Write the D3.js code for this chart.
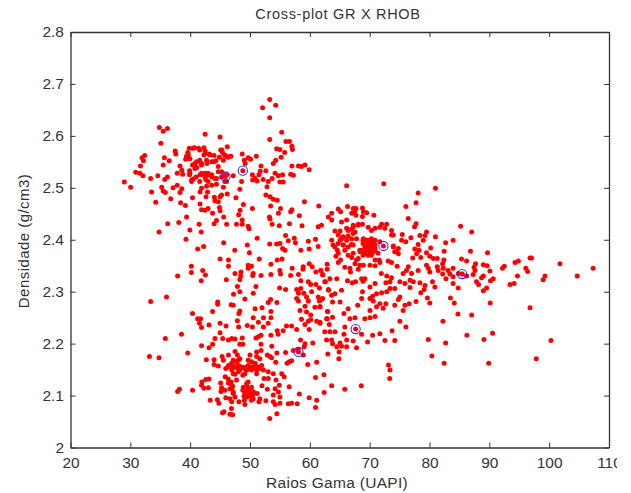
<!DOCTYPE html>
<meta charset="utf-8">
<script src="https://d3js.org/d3.v7.min.js"></script>
<style>
  html, body { margin: 0; background: #fff; }
  svg { display: block; }
  text { font-family: "Liberation Sans", sans-serif; fill: #333; }
</style>
<div id="my_dataviz"></div>
<script>
// tick labels
var grTicks = [20, 30, 40, 50, 60, 70, 80, 90, 100, 110];
var rhobTicks = [2, 2.1, 2.2, 2.3, 2.4, 2.5, 2.6, 2.7, 2.8];

// [GR, RHOB]
var upperLeft = [[53.3,2.67],[54.3,2.659],[52.1,2.654],[53.3,2.635],[34.85,2.616],[35.5,2.609],[36.2,2.614],[42.5,2.603],[45,2.598],[55.3,2.607],[53.3,2.593],[35.1,2.586],[56,2.589],[56.6,2.589],[46.2,2.579],[57,2.58],[57.1,2.574],[54.45,2.575],[55,2.574],[55.8,2.568],[55.2,2.559],[54.3,2.553],[53.9,2.547],
[39.86,2.576],[40.7,2.577],[41.4,2.576],[42.3,2.577],[39.6,2.568],[39.4,2.561],[39.25,2.555],[39.97,2.556],[42.5,2.571],[43.2,2.565],[44,2.562],[45.1,2.573],[45.4,2.568],[45.8,2.562],[46.3,2.559],[46.8,2.561],[42.3,2.563],[41.6,2.553],[40.8,2.547],[40.4,2.544],[41.1,2.539],[41.9,2.544],[42.8,2.547],[43.6,2.55],[44.3,2.552],[44.9,2.559],[45.55,2.553],[48.7,2.565],[49.05,2.553],[49.7,2.558],[50.1,2.555],[51.05,2.561],[49.2,2.547],[37.5,2.571],[37.6,2.565],[32.4,2.562],[31.95,2.558],[32.2,2.552],[31.7,2.542],[35.7,2.558],[36.5,2.552],[35.5,2.544],[30.9,2.53],[31.6,2.528],[32.1,2.523],[33.4,2.518],[34.6,2.523],[36.2,2.521],[35.75,2.516],[29,2.511],[30.05,2.501],
[38.3,2.542],[38.6,2.534],[37.85,2.528],[38.75,2.526],[39.9,2.533],[39.9,2.525],[40.55,2.517],[41,2.521],[40.25,2.512],[41.65,2.525],[42.3,2.525],[43,2.525],[43.6,2.521],[42.6,2.516],[44.4,2.518],[45.25,2.521],[46.1,2.525],[47.2,2.523],[45.8,2.512],[44.4,2.507],[43.6,2.505],[42.75,2.503],[41.9,2.499],[41.65,2.492],[42.9,2.492],[45.25,2.486],[42.65,2.483],[40.4,2.481],[46.2,2.488],[45.55,2.501],[45,2.483],[44.05,2.482],[44.15,2.475],[44.7,2.473],[41.65,2.469],[41.9,2.458],[42.5,2.457],[43,2.46],[44.9,2.462],[45,2.456],[43.75,2.451],[45.6,2.444],[44.4,2.437],[44,2.431],[46.1,2.43],[47.65,2.481],[48.3,2.497],[48.6,2.512],[50.4,2.525],[50.85,2.518],[51.5,2.525],[51.7,2.532],[51.85,2.542],[52.65,2.533],[50.45,2.515],[51.2,2.513],[52.2,2.516],[53.05,2.512],[53.7,2.518],[52.85,2.502],[54.2,2.528],[54.75,2.523],[55.45,2.525],[55,2.511],[55.55,2.511],[56.8,2.526],[57.25,2.524],[57,2.542],[58.1,2.542],[59.2,2.544],[59.9,2.535],[58.6,2.541],[52.65,2.486],[53.35,2.483],[53.9,2.478],[54.55,2.476],[53.45,2.465],[59.1,2.473],[61.5,2.465],[55.1,2.46],[54.75,2.451],[56.8,2.454],[57,2.458],[58.25,2.446],[53.25,2.444],[53.35,2.44],[53.7,2.43],[54.9,2.427],[56.6,2.431],[58.7,2.427],[61.4,2.425],
[55.95,2.408],[56.4,2.398],[57.4,2.403],[57.6,2.394],[59.75,2.397],[60.95,2.401],[61.4,2.387],[59.9,2.382],[58.5,2.38],[55,2.393],[54.45,2.392],[55.45,2.383],[55.85,2.38],[53.3,2.392],[51.2,2.403],[49.55,2.39],[49.9,2.375],[45.6,2.394],[47.45,2.38],[42.25,2.387],[41.25,2.382],[39.3,2.401],[34.8,2.415],[36.25,2.431],[38.1,2.433],[39.4,2.444],[39.95,2.419],[41.5,2.43],[41.85,2.415],[34.25,2.472],[33.55,2.492],[35.25,2.501],[35.5,2.494],[35.85,2.491],[36.75,2.479],[38.4,2.471],[39.2,2.466],[37.15,2.5],[37.85,2.505],[38.6,2.498],[38.3,2.491],[48.7,2.438],[48.7,2.43],[47.75,2.43],[48.1,2.448],[48.35,2.457],[48.9,2.468],[50.4,2.46],[49.7,2.426],[49.85,2.421],[45,2.363],[51.55,2.363],[54.55,2.361],[55.35,2.363],[46.4,2.361],
[39.7,2.563],[40.5,2.576],[41.6,2.573],[42.5,2.566],[43.3,2.563],[45.3,2.573],[45.8,2.563],[46.4,2.56],[41.1,2.55],[41.9,2.547],[42.75,2.553],[43.9,2.55],[44.7,2.541],[40.8,2.537],[40.25,2.515],[41.9,2.528],[42.5,2.528],[43,2.528],[43.6,2.525],[42.5,2.521],[44.15,2.518],[44.7,2.531],[45.25,2.531],[45.8,2.525],[46.1,2.512],[41.6,2.512],[43,2.512],[39.95,2.528]];

var lowerLeft = [[40.2,2.349],[40.2,2.337],[42.1,2.341],[42.55,2.332],[37.9,2.33],[41.85,2.321],[46.05,2.323],[46.4,2.349],[47.5,2.335],[48.5,2.338],[48.45,2.33],[48.3,2.323],[49.7,2.351],[50.25,2.349],[49.7,2.345],[50.55,2.335],[50.45,2.331],[51.85,2.331],[53.5,2.353],[53.5,2.333],[55,2.341],[55.1,2.334],[56.8,2.331],[57.05,2.345],[58.1,2.333],[58.5,2.321],[58.9,2.348],[58.85,2.343],[59.9,2.354],[60.4,2.348],[61,2.338],[61.8,2.341],[62.15,2.332],[62.6,2.319],[59.75,2.319],[60.15,2.314],[61,2.314],[61.6,2.307],[63.15,2.303],[36.05,2.29],[33.4,2.281],[47.9,2.31],[51,2.31],[48.3,2.3],[47.25,2.295],[50.55,2.297],[49.15,2.286],[54.95,2.307],[55.95,2.304],[57.8,2.304],[58.5,2.306],[58.1,2.297],[59,2.297],[57.8,2.287],[58.1,2.282],[59.45,2.29],[59.75,2.282],[60.3,2.3],[61.4,2.29],[61.95,2.285],[61.6,2.282],[61.7,2.271],[59.2,2.272],[60.85,2.27],[58.35,2.264],[59.45,2.261],[60.15,2.255],[58.6,2.247],[59.75,2.243],[60.15,2.246],[59.2,2.237],[61.15,2.243],[61.7,2.241],[62.8,2.248],[62.95,2.262],[59.9,2.227],[57.8,2.227],[56.95,2.234],[56.1,2.234],[55.55,2.225],[54.55,2.225],[54.7,2.218],[53.5,2.216],[53.65,2.195],[51.85,2.216],[51.4,2.213],[51,2.211],[54.5,2.182],[55.95,2.183],[57.25,2.187],[58.05,2.189],[58.45,2.207],[59.2,2.2],[60.5,2.201],[59.05,2.194],[58.9,2.178],[59.65,2.16],[61.15,2.164],[56.95,2.167],[56.55,2.165],[56.2,2.162],[54.3,2.164],[53.35,2.175],[52.9,2.178],[53.6,2.173],[62.35,2.14],[60.95,2.135],[56.55,2.117],[62.4,2.106],[59.9,2.096],[61.15,2.091],[60.95,2.077],[58.25,2.103],[57.9,2.084],[56.95,2.085],[56.4,2.084],[54.5,2.065],[53.3,2.056],[45.4,2.067],[45.65,2.069],[46.65,2.064],[47.1,2.063],[46.9,2.075],[43.35,2.091],[44.55,2.092],[44.8,2.085],[45.95,2.096],[46.65,2.094],[46.95,2.088],[48.15,2.088],[49.15,2.083],[49.05,2.091],[50.25,2.091],[51.5,2.088],[51.65,2.094],[52.65,2.09],[53.9,2.088],[54.2,2.083],[55,2.085],[55,2.097],[53.9,2.101],[54.75,2.107],[54.2,2.113],[54.9,2.12],[54.35,2.13],[52.9,2.112],[52,2.119],[51.2,2.104],[50.55,2.107],[49.7,2.126],[49.45,2.118],[50,2.113],[48.8,2.11],[49.15,2.107],[49.7,2.105],[49,2.099],[50,2.099],[50.45,2.101],[50.55,2.094],[47.2,2.107],[46.65,2.113],[47.1,2.118],[46.4,2.124],[45.85,2.136],[46.85,2.126],[45.1,2.124],[45.25,2.115],[45.15,2.108],[47.75,2.13],[47.5,2.141],[48.8,2.139],[51.1,2.142],[52.35,2.133],[53.05,2.133],[53.9,2.142],[55.3,2.142],[55.7,2.136],[41.95,2.126],[42.6,2.131],[43.15,2.132],[41.9,2.12],[42.3,2.114],[43.05,2.115],[40.4,2.11],[37.9,2.108],[38.2,2.112],[33.2,2.175],[34.8,2.173],[39.6,2.182],[35.85,2.21],[38.55,2.218],[41.9,2.196],[42.7,2.169],[44,2.169],[44,2.16],[44.7,2.157],[45.35,2.175],[45.55,2.168],[43.15,2.192],[43.75,2.199],[44.15,2.21],[45,2.221],[45.45,2.21],[46.4,2.207],[46.95,2.21],[47.5,2.209],[48.7,2.211],[48.3,2.199],[48.8,2.199],[47.5,2.185],[46.4,2.178],[47.9,2.178],[48.3,2.171],[47.75,2.165],[46.95,2.162],[45.95,2.152],[46.4,2.155],[47.2,2.157],[47.75,2.154],[48.3,2.155],[48.9,2.154],[49.45,2.155],[50,2.178],[49.7,2.168],[50.25,2.165],[51.1,2.184],[51.85,2.187],[51.1,2.175],[50.85,2.162],[51.65,2.171],[51.95,2.158],[51.5,2.152],[50.45,2.152],[49.7,2.152],[49.15,2.142],[52.25,2.149],[53.05,2.146],[48.05,2.146],[47.2,2.142],[51.85,2.199],[40.4,2.258],[41.25,2.248],[41.75,2.248],[41.55,2.239],[41.9,2.231],[43.15,2.236],[43.75,2.262],[44.6,2.28],[44.6,2.276],[45,2.239],[46,2.234],[46.85,2.275],[47.2,2.274],[48.3,2.263],[48.15,2.258],[47.9,2.244],[48.1,2.232],[49.55,2.235],[50.4,2.232],[50.55,2.25],[50.85,2.267],[51.4,2.241],[52,2.269],[52.25,2.25],[52.25,2.232],[53.05,2.239],[53.5,2.262],[53.5,2.25],[53.05,2.279],[53.45,2.285],[54.5,2.279],
[46.4,2.158],[46.95,2.161],[47.5,2.155],[48.05,2.158],[48.6,2.155],[49.15,2.152],[49.7,2.158],[50.3,2.155],[50.85,2.158],[51.4,2.155],[47.2,2.168],[48.05,2.168],[46.95,2.149],[48.3,2.149],[49.45,2.149],[50.25,2.149],[49.45,2.123],[48.9,2.116],[49.7,2.113],[50.25,2.116],[49.15,2.107],[50,2.104],[50.55,2.107],[49.45,2.097],[46.65,2.123],[46.95,2.113],[46.35,2.132],[47.2,2.104],[47.5,2.097],[45.8,2.11],[51.1,2.149]];

var rightSide = [[66.15,2.504],[72.35,2.508],[81,2.499],[78.1,2.49],[76.05,2.464],[77.75,2.471],[76.45,2.441],[77.75,2.431],[77.5,2.425],[85.2,2.426],[87.05,2.415],[81,2.406],[83.95,2.399],[82.7,2.394],[79.5,2.415],[78.4,2.408],[79.25,2.408],[78.95,2.399],[78.1,2.391],[76.9,2.404],[75.45,2.41],[75.35,2.399],[76.05,2.396],[80.2,2.384],[82.45,2.378],[86.85,2.378],[89.7,2.375],[77.55,2.382],[78.25,2.38],[77.2,2.365],[77.85,2.373],[78.55,2.366],[79.5,2.375],[80.05,2.368],[80.65,2.364],[81.3,2.364],[82.4,2.361],[82.2,2.354],[85.35,2.363],[86.2,2.359],[87.7,2.354],[89,2.352],[89.65,2.35],[87.45,2.347],[90.1,2.34],[92.2,2.345],[92.5,2.349],[94.3,2.356],[94.85,2.359],[96.8,2.365],[97.05,2.365],[101.8,2.354],[107.35,2.345],[104.7,2.33],[96.1,2.345],[96.4,2.339],[94.7,2.33],[99.3,2.33],[99,2.323],[93.45,2.314],[94.15,2.316],[90.65,2.325],[90.2,2.321],[89,2.33],[88.7,2.327],[87.85,2.319],[88.2,2.314],[89.55,2.307],[89,2.302],[87.3,2.333],[87.6,2.341],[86.2,2.33],[84.8,2.335],[83.95,2.345],[83.1,2.341],[82.3,2.345],[81.3,2.348],[81.45,2.341],[82.2,2.334],[82.75,2.325],[83.4,2.334],[83.95,2.329],[83.95,2.316],[84.8,2.307],[85.45,2.334],[83.5,2.288],[84.15,2.278],[84.75,2.257],[87.05,2.255],[90.15,2.278],[96.8,2.269],[82.25,2.243],[86.25,2.216],[90.55,2.22],[89.1,2.208],[100.3,2.206],[79.8,2.208],[82.7,2.201],[80.4,2.176],[82.45,2.162],[89.9,2.162],[97.85,2.171],[73.15,2.159],[73.4,2.149],[73.35,2.133],[63.65,2.119],[68.6,2.119],[65.85,2.112],
[66.3,2.464],[64.75,2.459],[65.15,2.454],[63.65,2.451],[63.1,2.444],[63.65,2.438],[65.3,2.434],[66.15,2.438],[67.25,2.46],[67.7,2.46],[68.8,2.461],[67.55,2.454],[67,2.451],[68.95,2.454],[69.5,2.452],[68.8,2.445],[70.7,2.447],[67.7,2.447],[61.95,2.428],[67.25,2.428],[68.1,2.43],[68.8,2.43],[69.75,2.424],[70.3,2.418],[70.9,2.422],[71.7,2.424],[72,2.43],[72.85,2.43],[72.55,2.422],[73.65,2.418],[73.95,2.409],[64.2,2.417],[65.05,2.417],[66.15,2.422],[66.95,2.42],[67.55,2.415],[64.75,2.409],[65.6,2.406],[66.4,2.407],[63.65,2.399],[63.9,2.39],[65.05,2.399],[65.6,2.39],[66.95,2.391],[67.8,2.402],[68.95,2.402],[69.5,2.399],[70.3,2.402],[70.9,2.399],[68.95,2.393],[69.75,2.39],[70.9,2.39],[71.7,2.396],[68.35,2.38],[69.2,2.38],[70.05,2.38],[70.9,2.38],[70.3,2.373],[68.9,2.37],[73.95,2.388],[74.8,2.383],[74.2,2.377],[74.8,2.373],[64.6,2.38],[65.85,2.38],[64.35,2.368],[65.15,2.361],[64.75,2.356],[66.4,2.37],[67,2.366],[67.8,2.361],[68.35,2.351],[67.55,2.354],[68.95,2.351],[70.05,2.351],[70.9,2.35],[71.6,2.361],[71.7,2.356],[73.1,2.359],[73.65,2.356],[74.6,2.349],[65.85,2.347],[66.7,2.345],[66.8,2.338],[68.1,2.343],[62.9,2.353],[62.9,2.343],[61.85,2.341],[62.15,2.333],[63.35,2.325],[64.5,2.325],[62.5,2.319],[66.3,2.321],[67.1,2.317],[67.65,2.319],[68.65,2.325],[69.2,2.325],[68.9,2.32],[70.9,2.316],[70.05,2.309],[68.8,2.3],[71.95,2.335],[72.85,2.33],[73.65,2.327],[72.7,2.317],[73.4,2.319],[75.05,2.319],[75.9,2.316],[76.75,2.322],[77.3,2.319],[73.4,2.306],[74.2,2.306],[72.85,2.3],[72,2.298],[71.15,2.296],[75.05,2.29],[74.8,2.285],[76.75,2.308],[78.4,2.317],[79.25,2.312],[79.1,2.304],[78.55,2.298],[80.5,2.319],[80.9,2.309],[79.65,2.288],[80.05,2.278],[77.75,2.281],[76.6,2.277],[75.9,2.274],[75.6,2.264],[74.2,2.274],[72.7,2.277],[72.25,2.268],[71.7,2.277],[71.15,2.271],[70.05,2.287],[70.5,2.291],[70.6,2.282],[70.05,2.264],[70.9,2.252],[70.05,2.25],[69.2,2.248],[68.65,2.287],[68,2.274],[66.4,2.267],[65.7,2.258],[66.7,2.248],[67.55,2.25],[65.3,2.303],[64.2,2.296],[63.65,2.293],[63.1,2.304],[62.15,2.287],[63.8,2.28],[65.05,2.28],[61.7,2.271],[63,2.262],[63.8,2.251],[62.9,2.248],[61.7,2.239],[63.25,2.237],[65.85,2.232],[62.5,2.223],[63.35,2.223],[64.2,2.223],[65.7,2.218],[68.65,2.218],[70.5,2.216],[71.7,2.219],[73.75,2.225],[75.05,2.243],[76.05,2.232],[62.8,2.207],[63.65,2.207],[63.8,2.2],[65.05,2.201],[66.15,2.207],[67.25,2.205],[69.65,2.203],[72.55,2.206],[74.2,2.206],[64.5,2.194],[65.3,2.195],[66.15,2.194],[67.8,2.192],[64.9,2.184],[63,2.18],[64.85,2.171],[76.15,2.341],[76.45,2.348],[75.6,2.335],[79.5,2.351],[79.8,2.345],[80.05,2.338],[78.1,2.341],[77,2.335],
[68.9,2.399],[69.5,2.399],[70,2.399],[70.6,2.396],[68.9,2.393],[69.5,2.393],[70,2.393],[70.6,2.39],[69.2,2.386],[69.75,2.386],[70.3,2.386],[70.9,2.383],[68.9,2.38],[69.5,2.38],[70,2.377],[70.6,2.377],[69.2,2.374],[69.75,2.37],[70.3,2.37],[68.4,2.377],[71.4,2.374],[70.9,2.361],[68.1,2.364],[67.25,2.425],[68.1,2.428],[66.4,2.418],[67.25,2.412],[65.3,2.402],[66.15,2.399],[67,2.402],[64.75,2.393],[65.6,2.39],[66.4,2.386],[67.25,2.39],[64.2,2.386],[64.75,2.374],[67.25,2.374],[73.65,2.409],[73.95,2.386],[74.5,2.377]];

var circled = [[45.9,2.522],[48.8,2.533],[58.1,2.184],[72.3,2.388],[85.45,2.334],[67.65,2.228]];

// cut at 617 like the source image, the 110 label gets clipped
var svg = d3.select("#my_dataviz")
  .append("svg")
    .attr("width", 617)
    .attr("height", 493);

var x = d3.scaleLinear().domain([20, 110]).range([70.5, 609]);
var y = d3.scaleLinear().domain([2, 2.8]).range([447.5, 32]);

var tickColor = "#333";

function styleAxis(g) {
  g.selectAll("path").attr("stroke", tickColor).attr("stroke-width", 1.3);
  g.selectAll("line").attr("stroke", tickColor).attr("stroke-width", 1);
  g.selectAll("text").attr("font-size", 15.5).style("fill", "#333");
}

svg.append("g")
  .attr("transform", "translate(0,447.5)")
  .call(d3.axisBottom(x).tickValues(grTicks).tickFormat(d3.format("d")).tickSize(-5).tickSizeOuter(0).tickPadding(9))
  .call(styleAxis);

svg.append("g")
  .attr("transform", "translate(70.5,0)")
  .call(d3.axisLeft(y).tickValues(rhobTicks).tickFormat(d => d).tickSize(-5).tickSizeOuter(0).tickPadding(6.5))
  .call(styleAxis);

// top and right sides of the box
svg.append("g")
  .attr("transform", "translate(0,32)")
  .call(d3.axisTop(x).tickValues(grTicks).tickFormat("").tickSize(-5).tickSizeOuter(0))
  .call(styleAxis);

svg.append("g")
  .attr("transform", "translate(609,0)")
  .call(d3.axisRight(y).tickValues(rhobTicks).tickFormat("").tickSize(-5).tickSizeOuter(0))
  .call(styleAxis);

// circled points are red dots too
var allPoints = upperLeft.concat(lowerLeft, rightSide, circled);

svg.append("g")
  .selectAll("circle")
  .data(allPoints)
  .enter().append("circle")
    .attr("cx", d => x(d[0]))
    .attr("cy", d => y(d[1]))
    .attr("r", 2.5)
    .attr("fill", "#ff0000");

svg.append("g")
  .selectAll("circle")
  .data(circled)
  .enter().append("circle")
    .attr("cx", d => x(d[0]))
    .attr("cy", d => y(d[1]))
    .attr("r", 4.6)
    .attr("fill", "none")
    .attr("stroke", "#2a2aff")
    .attr("stroke-width", 1.1);

// labels
svg.append("text")
  .attr("x", 338)
  .attr("y", 19)
  .attr("text-anchor", "middle")
  .attr("font-size", 14.5)
  .attr("letter-spacing", 0.7)
  .text("Cross-plot GR X RHOB");

svg.append("text")
  .attr("x", 337)
  .attr("y", 488)
  .attr("text-anchor", "middle")
  .attr("font-size", 15.5)
  .attr("letter-spacing", 0.3)
  .text("Raios Gama (UAPI)");

svg.append("text")
  .attr("transform", "translate(29,241) rotate(-90)")
  .attr("text-anchor", "middle")
  .attr("font-size", 15)
  .attr("letter-spacing", 0.45)
  .text("Densidade (g/cm3)");
</script>
